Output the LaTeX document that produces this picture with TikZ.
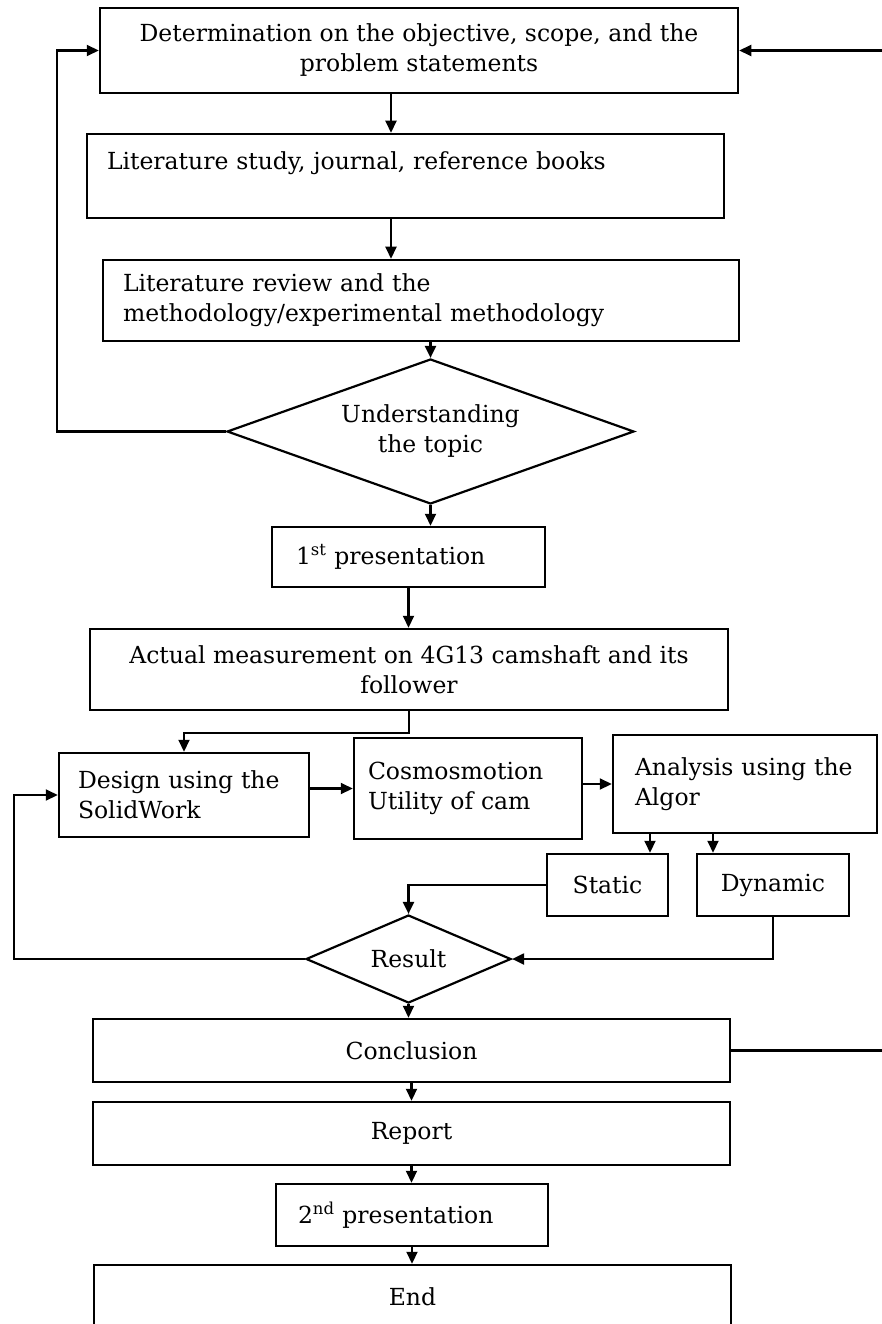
\documentclass[tikz,border=0pt]{standalone}
\usepackage{fontspec}
\setmainfont{DejaVu Serif}
\usetikzlibrary{shapes.geometric,arrows.meta}

\begin{document}
\begin{tikzpicture}[x=1pt,y=-1pt,
    >={Triangle[length=12pt,width=11pt]},
    every node/.style={font=\fontsize{23.5}{30}\selectfont},
    box/.style={draw,line width=2.5pt,inner sep=0pt},
    cbox/.style={box,align=center},
    lbox/.style={box,align=left,inner xsep=20pt},
    decision/.style={draw,diamond,line width=2.2pt,inner sep=0pt,align=center},
    conn/.style={line width=2.1pt}]
  \useasboundingbox (0,0) rectangle (882,1324);
  \clip (0,0) rectangle (882,1324);

  \coordinate (lx1) at (57,0);
  \coordinate (lx2) at (14,0);
  \coordinate (rx) at (894,0);
  \coordinate (ax1) at (391,0);
  \coordinate (ax2) at (650,0);
  \coordinate (ax3) at (713,0);

  % STUDY
  \node[cbox,minimum width=638pt,minimum height=85pt] (det) at (419,50.5) {Determination on the objective, scope, and the\\problem statements};
  \node[lbox,text width=597pt,minimum height=84pt] (lit) at (405.5,176) {Literature study, journal, reference books\\\mbox{}};
  \node[lbox,text width=596pt,minimum height=81pt] (rev) at (421,300.5) {Literature review and the\\methodology/experimental methodology};
  \node[decision,minimum width=407pt,minimum height=145pt,aspect=2.8] (und) at (430.5,431.5) {Understanding\\the topic};
  \node[lbox,inner xsep=24pt,text width=225pt,minimum height=60pt] (pres1) at (408.5,557) {1\textsuperscript{st} presentation};

  % DESIGN AND ANALYSIS
  \node[cbox,minimum width=638pt,minimum height=81pt] (meas) at (409,669.5) {Actual measurement on 4G13 camshaft and its\\follower};
  \node[lbox,inner xsep=19pt,text width=212pt,minimum height=84pt] (des) at (184,795) {\mbox{Design using the}\\SolidWork};
  \node[lbox,inner xsep=14pt,text width=200pt,minimum height=101pt] (cosmo) at (468,788.5) {Cosmosmotion\\Utility of cam};
  \node[lbox,inner xsep=22pt,text width=220pt,minimum height=98pt] (ana) at (745,784) {\mbox{Analysis using the}\\Algor};
  \node[cbox,minimum width=121pt,minimum height=62pt] (stat) at (607.5,885) {Static};
  \node[cbox,minimum width=152pt,minimum height=62pt] (dyn) at (773,885) {Dynamic};
  \node[decision,minimum width=205pt,minimum height=88pt,aspect=2.3] (res) at (408.5,959) {Result};

  % CLOSING
  \node[cbox,minimum width=637pt,minimum height=63pt] (concl) at (411.5,1050.5) {Conclusion};
  \node[cbox,minimum width=637pt,minimum height=63pt] (rep) at (411.5,1133.5) {Report};
  \node[lbox,inner xsep=22pt,text width=228pt,minimum height=62pt] (pres2) at (412,1215) {2\textsuperscript{nd} presentation};
  \node[cbox,minimum width=637pt,minimum height=63pt] (fin) at (412.5,1296.5) {End};

  % FLOW
  \draw[conn,->] (det.south -| ax1) -- (lit.north -| ax1);
  \draw[conn,->] (lit.south -| ax1) -- (rev.north -| ax1);
  \draw[conn,->] (und.north |- rev.south) -- (und.north);
  \draw[conn,->] (und.south) -- (und.south |- pres1.north);
  \draw[conn,->] (pres1.south) -- (pres1.south |- meas.north);
  \draw[conn,->] (meas.south) -- ++(0,22) -| (des.north);
  \draw[conn,->] (des.east |- cosmo.west) -- (cosmo.west);
  \draw[conn,->] (cosmo.east |- ana.west) -- (ana.west);
  \draw[conn,->] (ana.south -| ax2) -- (stat.north -| ax2);
  \draw[conn,->] (ana.south -| ax3) -- (dyn.north -| ax3);
  \draw[conn,->] (stat.west) -| (res.north);
  \draw[conn,->] (dyn.south) |- (res.east);
  \draw[conn,->] (res.south) -- (res.south |- concl.north);
  \draw[conn,->] (concl.south) -- (concl.south |- rep.north);
  \draw[conn,->] (rep.south) -- (rep.south |- pres2.north);
  \draw[conn,->] (pres2.south) -- (pres2.south |- fin.north);

  % FEEDBACK
  \draw[conn,->] (und.west) -- (und.west -| lx1) |- (det.west);
  \draw[conn,->] (res.west) -- (res.west -| lx2) |- (des.west);
  \draw[conn,->] (concl.east) -- (concl.east -| rx) |- (det.east);
\end{tikzpicture}
\end{document}
